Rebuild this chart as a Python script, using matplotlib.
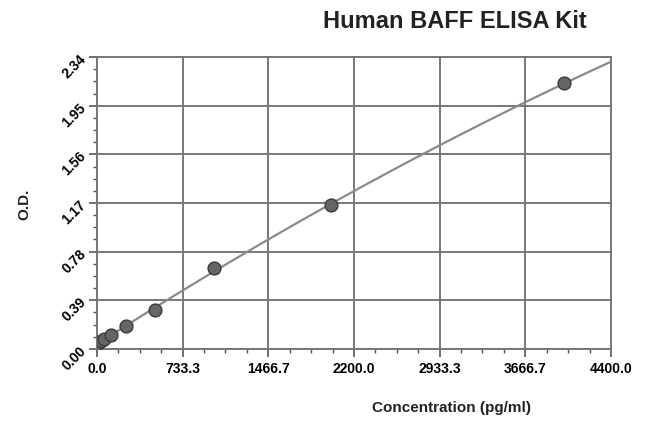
import numpy as np
import matplotlib
matplotlib.use('Agg')
import matplotlib.pyplot as plt
from matplotlib.ticker import MultipleLocator

# standard curve points
conc = [0, 31.25, 62.5, 125, 250, 500, 1000, 2000, 4000]
od = [0.04, 0.06, 0.08, 0.11, 0.18, 0.31, 0.65, 1.15, 2.13]

x_ticks = [0.0, 733.3, 1466.7, 2200.0, 2933.3, 3666.7, 4400.0]
y_ticks = [0.00, 0.39, 0.78, 1.17, 1.56, 1.95, 2.34]

plt.rcParams['font.family'] = ['Liberation Sans Narrow', 'Liberation Sans', 'DejaVu Sans']

fig = plt.figure(figsize=(6.5, 4.26), dpi=100)
ax = fig.add_axes([0.149, 0.181, 0.791, 0.685])

# fitted curve (quadratic fit through the standards)
coef = np.polyfit(conc, od, 2)
xs = np.linspace(0, 4400, 200)
ax.plot(xs, np.polyval(coef, xs), color='#8a8a8a', lw=1.6, zorder=2)
ax.scatter(conc, od, s=85, color='#666666', edgecolors='#3a3a3a', linewidths=1.0, zorder=3)

ax.set_xlim(0, 4400)
ax.set_ylim(0, 2.34)
ax.set_xticks(x_ticks)
ax.set_xticklabels([f'{v:.1f}' for v in x_ticks], fontsize=10, fontweight='bold')
ax.set_yticks(y_ticks)
ax.set_yticklabels([f'{v:.2f}' for v in y_ticks], fontsize=10, fontweight='bold',
                   rotation=45, ha='right', va='center', rotation_mode='anchor')
ax.xaxis.set_minor_locator(MultipleLocator(4400 / 24))
ax.yaxis.set_minor_locator(MultipleLocator(0.39 / 4))
ax.tick_params(axis='both', which='major', length=6, width=1.2, color='#555555', direction='out')
ax.tick_params(axis='both', which='minor', length=3, width=1.0, color='#555555', direction='out')
ax.grid(True, which='major', color='#777777', lw=1.4)
for s in ax.spines.values():
    s.set_color('#777777')
    s.set_linewidth(1.4)

fig.text(0.70, 0.95, 'Human BAFF ELISA Kit', ha='center', va='center', fontsize=17, fontweight='bold', color='#222222')
fig.text(0.695, 0.042, 'Concentration (pg/ml)', ha='center', va='center', fontsize=11, fontweight='bold', color='#222222')
fig.text(0.038, 0.52, 'O.D.', ha='center', va='center', rotation=90, fontsize=11, fontweight='bold', color='#222222')

fig.savefig('out.png', dpi=100)
